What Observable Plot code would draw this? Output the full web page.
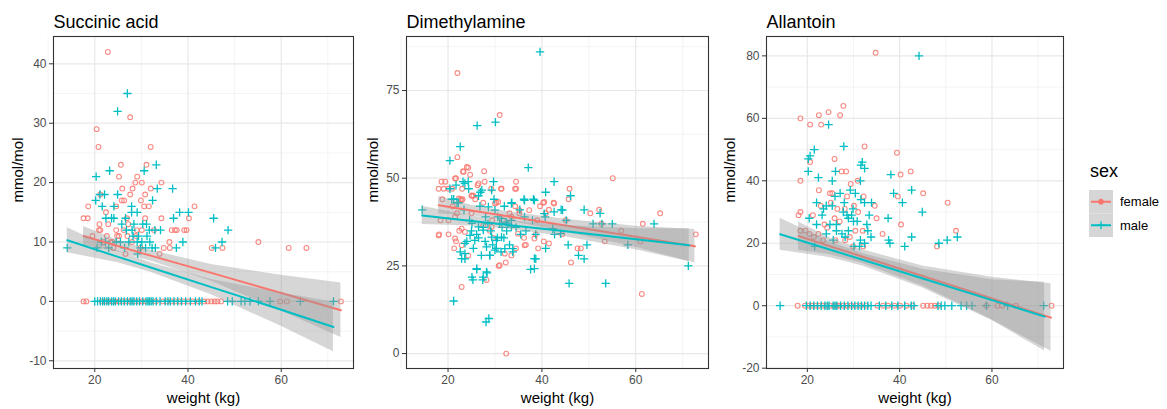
<!DOCTYPE html>
<html>
<head>
<meta charset="utf-8">
<script src="https://cdn.jsdelivr.net/npm/d3@7"></script>
<script src="https://cdn.jsdelivr.net/npm/@observablehq/plot@0.6"></script>
<style>
  html, body { margin: 0; padding: 0; background: #fff; }
  #wrap { position: relative; width: 1167px; height: 409px; overflow: hidden; font-family: "Liberation Sans", Arial, sans-serif; }
  .pane { position: absolute; top: 0; }
</style>
</head>
<body>
<div id="wrap"></div>
<script>
// ---------- DATA ----------
const sexes = ["female", "male"];
const sexColors = ["#F8766D", "#00BFC4"];
const panelTitles = ["Succinic acid", "Dimethylamine", "Allantoin"];
const xTicks = [20, 40, 60];
const xMinor = [10, 30, 50, 70];

// Succinic acid
const succinicFemale = [[22.8,42],[27.6,31],[20.4,29],[20.8,26],[32,26],[25.6,23],[31.1,23],[25.2,21],[29.1,21],[30.1,20],[28.7,20],[34.3,20],[28.1,19],[25.9,19],[32,19],[27.6,18],[30.8,18],[21.2,18],[25.8,17],[26.3,17],[30.6,16],[18.6,16],[41.4,16],[24.6,16],[22.4,15],[17.6,14],[18.5,14],[34.3,14],[30.8,14],[40.2,14],[21,13],[36.5,12],[37.2,12],[37.6,12],[39.2,12],[39.7,12],[24.6,12],[20.9,12],[21.2,12],[30.1,12],[28.8,11],[24.8,11],[25.2,11],[27,11],[19.5,11],[55.1,10],[36,10],[21.9,10],[23.4,10],[34.8,9],[36.1,9],[47.4,9],[45.1,9],[61.6,9],[65.4,9],[26.6,8],[33.9,8],[29.8,9],[26.2,12],[23.8,10],[22.6,11],[28.0,10],[22.9,13],[27.2,13],[29.9,17],[31.6,16],[26.9,14],[24.0,9],[32.7,12],[29.0,12]];
const succinicFemaleZeros = [17.6,18.2,21.5,22.3,23.0,23.8,24.5,25.2,26.0,26.7,27.5,28.6,29.4,30.1,30.8,32.0,33.1,34.6,35.4,36.5,37.3,38.2,39.0,40.1,41.0,42.3,43.5,44.2,45.0,45.7,46.3,47.1,59.8,61.2,72.8];
const succinicMale = [[27,35],[24.9,32],[20.3,21],[23.2,22],[30.6,22],[33.2,23],[20.2,17],[21.1,18],[22.1,18],[24.9,18],[32.4,17],[33.4,19],[36.7,19],[21.6,16],[27.9,16],[24.1,16],[38.2,15],[40.1,15],[27.9,15],[29.1,15],[45.5,14],[36.9,14],[22.4,14],[23.6,14],[24.1,14],[26.6,14],[31.1,13],[28.4,13],[48.6,12],[26.8,12],[28,12],[32.9,12],[34.1,12],[31.7,12],[47.3,10],[38.9,10],[28.2,11],[29.4,11],[31.2,11],[21.4,10],[22.3,10],[25.5,10],[29.1,10],[30.1,10],[37.5,9],[33,9],[45.9,9],[14.1,9],[20.5,9],[29.2,8],[26.4,9],[32.3,9],[30.9,9],[23,9],[25.8,13],[30.3,13],[27.3,10],[31.8,10],[24.6,10],[29.8,9]];
const succinicMaleZeros = [20.0,20.6,21.2,21.7,22.1,22.6,23.0,23.6,24.0,24.4,25.1,25.7,26.3,27.0,27.6,28.0,28.4,29.0,29.6,30.3,31.0,31.4,31.7,32.1,32.5,33.2,34.0,35.1,35.7,36.2,37.0,37.8,38.6,39.5,40.5,41.6,42.4,43.0,48.5,49.5,51.4,52.2,53.3,55.1,57.6,64.1,71.2];
// fit rows: [weight, fit, lower, upper]
const succinicFitFemale = [[17.6,11.0,9.4,12.6],[25,9.3,8.3,10.3],[32,7.7,6.8,8.6],[45,4.8,3.4,6.2],[60,1.4,-1.6,4.4],[72.8,-1.5,-6.1,3.1]];
const succinicFitMale = [[14.1,10.3,8.2,12.4],[25,7.5,6.5,8.5],[32,5.7,4.9,6.5],[45,2.4,1.1,3.7],[60,-1.4,-4.2,1.4],[71.2,-4.3,-8.5,-0.1]];
const succinicYTicks = [-10, 0, 10, 20, 30, 40];
const succinicYMinor = [-5, 5, 15, 25, 35];

// Dimethylamine
const dimethylFemale = [[22,80],[31,68],[22,56],[24.3,53],[23.2,52],[27.7,52],[24.7,51],[55.1,50],[21.7,50],[18.6,49],[19.4,49],[18,47],[27.8,49],[34.5,49],[26.3,48],[31.3,47],[34.3,47],[45.9,47],[29.2,47],[20.1,47],[20.9,47],[23,47],[18.8,44],[22.7,44],[23.1,44],[45.7,44],[25,45],[25.4,45],[25.8,44],[27.5,43],[30.3,43],[42.5,43],[40.3,43],[39.6,42],[34.3,42],[21,42],[65.2,40],[50.3,40],[52.2,41],[40.8,40],[41.5,41],[35.2,40],[33.1,40],[21.9,40],[25,40],[31.7,38],[29.4,38],[18.4,38],[61.5,37],[52.7,37],[45.1,38],[39,38],[56.9,35],[22.4,35],[18.1,34],[20.1,34],[72.8,34],[38.7,34],[36.2,33],[29.7,33],[53.4,32],[61,32],[21.7,32],[21.3,30],[40.4,32],[39.2,30],[36.6,31],[34.5,30],[47.6,30],[48.3,30],[33.5,28],[46.2,26],[32.3,26],[30.8,25],[61.3,17],[22.9,19],[32.4,0],[24.3,28],[28.2,21],[28.9,35],[44.3,34],
  [24,53.2],[23.3,51.8],[21.5,49.9],[26.5,48.5],[31.4,47],[34.5,47],[19.1,47],[22.3,44.2],[22.9,43.7],[25.1,45.1],[30,42.8],[30.7,43.2],[40.5,43.2],[42.6,42.8],[35.2,40.9],[37.3,40.9],[20.1,38],[21.5,39],[27.5,36.6],[29.3,36.1],[33.5,39],[22.9,35.6],[23.6,34.7],[21.5,32.8],[38.4,32.8],[41.5,31.4],[22.9,30.9],[36.3,30.9],[32.1,28.5],[18,33.7],[31,25.2],[34.9,34.2]];
const dimethylMale = [[39.6,86],[30.1,66],[26.2,65],[22.6,59],[20.4,55],[37.1,53],[29.7,49],[42.6,49],[24.3,49],[23.2,49],[40.8,46],[46.1,45],[36.2,44],[38.2,44],[20.4,47],[21.7,48],[26.9,46],[33.6,43],[44.1,41],[49,41],[32,42],[21.2,44],[22.2,43],[14.5,41],[52.4,40],[40.7,39],[50.9,37],[52.8,37],[55,37],[63.9,37],[45.2,38],[28.5,37],[31,37],[32.7,37],[25,35],[26.1,34],[42.7,34],[45.6,31],[49.6,31],[58.3,31],[38.7,34],[40.8,30],[24,32],[25.4,30],[30.3,30],[31.3,29],[33.8,29],[22.6,29],[71.2,25],[47.8,28],[49,27],[38.7,27],[23.6,27],[27.1,28],[28.9,28],[37.6,24],[26.1,24],[25.3,21],[27.4,21],[28.3,23],[45.8,20],[53.6,20],[21.2,15],[28.7,10],[28.1,9],[31.5,36],[32.5,35],[33.5,38],[30.5,33],[29.5,31],[27.5,36],[26.5,33],[28,39],[34.5,36],[35.5,34],[36.6,35],[30.6,39],[29.1,35],[31.9,33],[27.9,32],[33.1,31],[24.6,38],[23.4,41],[26.8,42],[29.8,44],[35.3,41],
  [23.6,48.5],[24.4,47],[26.5,45],[27.2,46.6],[29.3,46.6],[33.5,42.8],[36.3,43.7],[38.4,43.7],[20.8,44],[21.9,43],[28.6,41.8],[30,40.9],[31.4,38.5],[32.4,37.5],[33.5,36.1],[25.1,37.1],[26.5,36.1],[27.5,35.2],[24.7,33.7],[25.7,32.3],[23.6,31.4],[29.3,33.2],[30.3,32.3],[31.4,33.2],[28.2,30.4],[30,29.5],[32.1,29.9],[33.8,29.9],[23.6,28.5],[22.9,27.1],[28.9,28],[38.4,27.1],[26.1,24.2],[28.2,23.3],[38.4,24.2],[25.1,21.8],[27.5,21.8],[36.3,39],[38,38],[40.5,39.9],[42.6,40.4],[44.4,40.9],[42.3,35.6],[44,34.2]];
const dimethylFitFemale = [[18,42.3,39.8,44.8],[25,40.8,39.3,42.3],[32,39.3,38.0,40.6],[45,36.5,34.7,38.3],[60,33.3,30.3,36.3],[72.6,30.6,25.8,35.4]];
const dimethylFitMale = [[14.5,39.4,36.8,42.0],[25,37.8,36.4,39.2],[32,36.8,35.6,38.0],[45,34.9,33.3,36.5],[60,32.6,29.6,35.6],[71.4,30.9,26.2,35.6]];
const dimethylYTicks = [0, 25, 50, 75];
const dimethylYMinor = [12.5, 37.5, 62.5, 87.5];

// Allantoin
const allantoinFemale = [[34.8,81],[27.8,64],[24.6,62],[22.5,61],[27.1,61],[18.5,60],[20.6,58],[23,58],[32.4,51],[39.4,49],[25.9,47],[20.6,46],[42.4,43],[27.4,43],[28.4,43],[40.2,42],[18.5,40],[30.9,40],[29.4,39],[45.1,36],[24.9,36],[25.4,36],[22.5,37],[39.6,35],[32.2,35],[28.6,35],[50.4,33],[34.6,32],[30.1,32],[22.9,32],[18.1,29],[18.5,30],[21.2,29],[26.5,31],[28.1,31],[35,28],[40.3,26],[25.9,28],[23.7,26],[36.3,23],[30.4,24],[52.2,24],[18.5,24],[19.6,24],[20.5,23],[22.4,23],[26.1,21],[28.2,21],[32.1,19],[29.9,19],[48.1,19],[23.4,21],[32,24],[21.4,22],[24.3,25],[27.0,27],[29.2,22],[25.1,33],[31.0,30]];
const allantoinFemaleZeros = [17.9,19.5,20.3,21.0,21.8,22.6,23.4,24.1,25.0,25.8,26.4,26.9,27.8,28.6,29.5,30.5,31.6,32.8,35.2,36.4,37.5,38.9,40.1,41.5,42.8,45.1,46.0,46.8,47.6,48.4,58.8,61.2,62.2,65.2,72.9];
const allantoinMale = [[44.2,80],[24.6,58],[27.9,51],[21.5,50],[20.6,48],[20.2,47],[31.9,46],[32.4,44],[31.6,45],[20.2,43],[26.1,43],[22.4,41],[38.1,42],[25.4,40],[31.5,40],[42.6,37],[38.7,36],[27.1,36],[30.4,36],[29.3,37],[40.6,33],[22,33],[31.6,34],[32.4,33],[33.9,33],[25.4,32],[24.1,32],[44.9,30],[23.5,31],[27.8,30],[28.6,29],[33.4,29],[20.4,28],[37.5,28],[30,27],[30.8,27],[24.9,26],[26.3,26],[22,26],[28.9,24],[26.3,24],[33.1,24],[24.1,23],[33.8,22],[52.5,22],[42.6,22],[37.6,21],[37.9,20],[48.5,20],[50.3,21],[41.1,19],[30.1,19],[31.3,19],[21.6,19],[27.5,23],[28.2,22],[28.9,28],[29.6,29],[31.5,21],[32.4,20],[23.2,29],[26.0,35],[29.9,31],[32.9,26],[25.6,21],[28.0,33]];
const allantoinMaleZeros = [14.1,19.8,20.6,21.4,22.2,23.0,23.8,24.3,24.7,25.6,26.0,26.4,27.2,28.0,28.8,29.6,30.3,31.0,31.7,32.4,33.1,33.8,35.6,37.0,38.3,39.6,41.1,42.5,43.1,48.3,49.0,49.8,51.3,53.3,54.5,55.7,58.8,63.4,71.2];
const allantoinFitFemale = [[18.1,22.3,17.8,26.8],[25,19.0,16.3,21.7],[32,15.7,13.5,17.9],[45,9.5,6.3,12.7],[60,2.3,-4.5,9.1],[72.8,-3.8,-14.6,7.0]];
const allantoinFitMale = [[14.1,22.9,17.8,28.0],[25,17.9,15.4,20.4],[32,14.7,12.7,16.7],[45,8.7,5.7,11.7],[60,1.8,-4.7,8.3],[71.4,-3.5,-14.5,7.5]];
const allantoinYTicks = [-20, 0, 20, 40, 60, 80];
const allantoinYMinor = [-10, 10, 30, 50, 70];

// ---------- DRAWING ----------
const FONT = "'Liberation Sans', Arial, sans-serif";
const wrap = document.getElementById("wrap");

function panel(cfg) {
  const pts = [
    ...cfg.female.map(([w, v]) => ({w, v, sex: "female"})),
    ...cfg.femaleZeros.map(w => ({w, v: 0, sex: "female"})),
  ];
  const ptsM = [
    ...cfg.male.map(([w, v]) => ({w, v, sex: "male"})),
    ...(cfg.maleZeros || []).map(w => ({w, v: 0, sex: "male"})),
  ];
  const fit = [
    ...cfg.fitF.map(([w, f, lo, hi]) => ({w, f, lo, hi, sex: "female"})),
    ...cfg.fitM.map(([w, f, lo, hi]) => ({w, f, lo, hi, sex: "male"})),
  ];
  const fmt = d => String(d);
  const svg = Plot.plot({
    width: cfg.width, height: 409,
    marginLeft: cfg.marginLeft, marginRight: cfg.marginRight, marginTop: 36, marginBottom: 41,
    style: {fontFamily: FONT, background: "transparent", overflow: "visible"},
    x: {domain: [11.15, 75.5]},
    y: {domain: cfg.yDomain},
    color: {domain: sexes, range: sexColors},
    symbol: {domain: sexes, range: ["circle", "plus"]},
    marks: [
      Plot.gridX(xMinor, {stroke: "#EFEFEF", strokeOpacity: 1, strokeWidth: 0.7}),
      Plot.gridY(cfg.yMinor, {stroke: "#EFEFEF", strokeOpacity: 1, strokeWidth: 0.7}),
      Plot.gridX(xTicks, {stroke: "#E8E8E8", strokeOpacity: 1, strokeWidth: 1.2}),
      Plot.gridY(cfg.yTicks, {stroke: "#E8E8E8", strokeOpacity: 1, strokeWidth: 1.2}),
      Plot.dot(pts, {x: "w", y: "v", stroke: "sex", symbol: "sex", r: 2.4, fill: "none", strokeWidth: 1.1, strokeOpacity: 0.85}),
      Plot.dot(ptsM, {x: "w", y: "v", stroke: "sex", symbol: "sex", r: 2.8, fill: "none", strokeWidth: 1.3}),
      Plot.areaY(fit.filter(d => d.sex === "female"), {x: "w", y1: "lo", y2: "hi", fill: "#999999", fillOpacity: 0.4}),
      Plot.line(fit.filter(d => d.sex === "female"), {x: "w", y: "f", stroke: "sex", strokeWidth: 2}),
      Plot.areaY(fit.filter(d => d.sex === "male"), {x: "w", y1: "lo", y2: "hi", fill: "#999999", fillOpacity: 0.4}),
      Plot.line(fit.filter(d => d.sex === "male"), {x: "w", y: "f", stroke: "sex", strokeWidth: 2}),
      Plot.frame({stroke: "#333333", strokeWidth: 1.1}),
      Plot.axisX(xTicks, {tickSize: 4, tickPadding: 3, fontSize: 12, stroke: "#333333", fill: "#4D4D4D", label: null, tickFormat: fmt}),
      Plot.axisY(cfg.yTicks, {tickSize: 4, tickPadding: 3, fontSize: 12, stroke: "#333333", fill: "#4D4D4D", label: null, tickFormat: fmt}),
      Plot.text([cfg.title], {frameAnchor: "top-left", textAnchor: "start", lineAnchor: "bottom", dy: -9, fontSize: 18, fill: "#000"}),
      Plot.text(["weight (kg)"], {frameAnchor: "bottom", lineAnchor: "middle", dy: 30, fontSize: 15, fill: "#000"}),
      Plot.text(["mmol/mol"], {frameAnchor: "left", rotate: -90, lineAnchor: "middle", dx: -cfg.yLabelOffset, fontSize: 15, fill: "#000"})
    ]
  });
  const div = document.createElement("div");
  div.className = "pane";
  div.style.left = cfg.left + "px";
  div.appendChild(svg);
  wrap.appendChild(div);
}

panel({title: panelTitles[0], female: succinicFemale, femaleZeros: succinicFemaleZeros, male: succinicMale, maleZeros: succinicMaleZeros,
  fitF: succinicFitFemale, fitM: succinicFitMale, yDomain: [-11.3, 44.6], yTicks: succinicYTicks, yMinor: succinicYMinor,
  left: 0, width: 356, marginLeft: 53, marginRight: 3, yLabelOffset: 35});
panel({title: panelTitles[1], female: dimethylFemale, femaleZeros: [], male: dimethylMale, maleZeros: [],
  fitF: dimethylFitFemale, fitM: dimethylFitMale, yDomain: [-4.25, 90.4], yTicks: dimethylYTicks, yMinor: dimethylYMinor,
  left: 356, width: 356, marginLeft: 50, marginRight: 4, yLabelOffset: 33});
panel({title: panelTitles[2], female: allantoinFemale, femaleZeros: allantoinFemaleZeros, male: allantoinMale, maleZeros: allantoinMaleZeros,
  fitF: allantoinFitFemale, fitM: allantoinFitMale, yDomain: [-20.1, 86.2], yTicks: allantoinYTicks, yMinor: allantoinYMinor,
  left: 712, width: 355, marginLeft: 54, marginRight: 4, yLabelOffset: 36});

// ---------- LEGEND ----------
const lg = d3.create("svg").attr("width", 100).attr("height", 409)
  .style("position", "absolute").style("left", "1067px").style("top", "0px").style("font-family", FONT);
lg.append("text").attr("x", 23).attr("y", 177).attr("font-size", 18).attr("fill", "#000").text("sex");
const keyY = d3.scaleBand().domain(sexes).range([190, 237]);
sexes.forEach((s, i) => {
  const y0 = keyY(s), cy = y0 + keyY.bandwidth() / 2;
  lg.append("rect").attr("x", 22).attr("y", y0).attr("width", 24).attr("height", keyY.bandwidth()).attr("fill", "#D6D6D6");
  lg.append("line").attr("x1", 24).attr("x2", 44).attr("y1", cy).attr("y2", cy).attr("stroke", sexColors[i]).attr("stroke-width", 2);
  const sym = d3.symbol(i === 0 ? d3.symbolCircle : d3.symbolPlus, i === 0 ? 17 : 22)();
  lg.append("path").attr("d", sym).attr("transform", `translate(34,${cy})`).attr("fill", i === 0 ? sexColors[i] : "none").attr("stroke", sexColors[i]).attr("stroke-width", 1.3);
  lg.append("text").attr("x", 53).attr("y", cy + 4.5).attr("font-size", 13).attr("fill", "#000").text(s);
});
wrap.appendChild(lg.node());
</script>
</body>
</html>
